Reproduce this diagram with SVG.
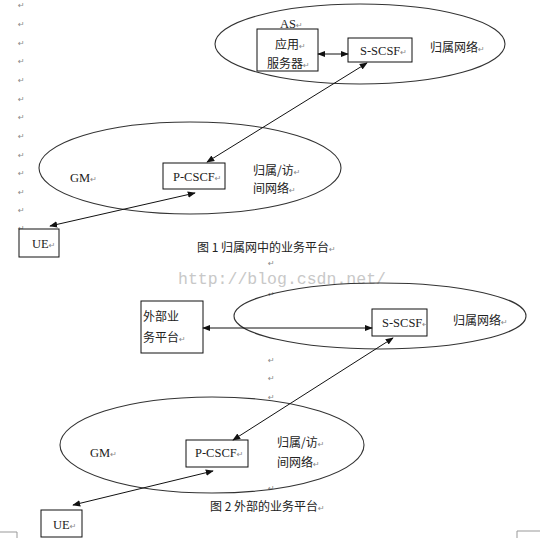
<svg xmlns="http://www.w3.org/2000/svg" width="550" height="538" viewBox="0 0 550 538">
<defs>
<style>
.bg{fill:#fff}
.ell{fill:none;stroke:#333;stroke-width:1.1}
.box{fill:#fff;stroke:#111;stroke-width:1}
.t{font-family:"Liberation Serif","Noto Sans CJK SC",serif;font-size:12.5px;fill:#222}
.c{font-family:"Noto Sans CJK SC","Liberation Sans",sans-serif;font-size:12px;fill:#222}
.p{font-family:"DejaVu Sans",sans-serif;font-size:8px;fill:#888}
.wm{font-family:"Liberation Mono",monospace;font-size:16.5px;fill:#c8c8c8}
.ln{stroke:#111;stroke-width:1;fill:none;marker-start:url(#ah);marker-end:url(#ah)}
.fr{stroke:#999;stroke-width:1;fill:none}
</style>
<marker id="ah" viewBox="0 0 10 10" refX="9" refY="5" markerWidth="8" markerHeight="8" markerUnits="userSpaceOnUse" orient="auto-start-reverse">
<path d="M0,1 L10,5 L0,9 z" fill="#111"/>
</marker>
</defs>
<rect class="bg" x="0" y="0" width="550" height="538"/>

<g id="paragraph-marks">
<text class="p" x="18" y="8">↵</text>
<text class="p" x="18" y="27">↵</text>
<text class="p" x="18" y="46">↵</text>
<text class="p" x="18" y="64">↵</text>
<text class="p" x="18" y="83">↵</text>
<text class="p" x="18" y="102">↵</text>
<text class="p" x="18" y="120">↵</text>
<text class="p" x="18" y="139">↵</text>
<text class="p" x="18" y="158">↵</text>
<text class="p" x="18" y="176">↵</text>
<text class="p" x="18" y="195">↵</text>
<text class="p" x="18" y="213">↵</text>
<text class="p" x="18" y="231">↵</text>
<text class="p" x="268" y="266">↵</text>
<text class="p" x="268" y="297">↵</text>
<text class="p" x="268" y="363">↵</text>
<text class="p" x="268" y="381">↵</text>
<text class="p" x="268" y="400">↵</text>
<text class="p" x="268" y="491">↵</text>
</g>

<text class="wm" x="178" y="284">http://blog.csdn.net/</text>

<g id="home-network-1">
<ellipse class="ell" cx="360" cy="44" rx="145" ry="40"/>
<text class="c" x="430" y="52">归属网络<tspan class="p">↵</tspan></text>
</g>
<g id="visited-network-1">
<ellipse class="ell" cx="190" cy="168" rx="151" ry="46"/>
<text class="c" x="253" y="175">归属/访<tspan class="p">↵</tspan></text>
<text class="c" x="253" y="193">间网络<tspan class="p">↵</tspan></text>
</g>
<g id="gm-1"><text class="t" x="70" y="182">GM<tspan class="p">↵</tspan></text></g>

<g id="as-1">
<text class="t" x="280" y="28">AS<tspan class="p">↵</tspan></text>
<rect class="box" x="257" y="29" width="61" height="42"/>
<text class="c" x="275" y="49">应用<tspan class="p">↵</tspan></text>
<text class="c" x="267" y="68">服务器<tspan class="p">↵</tspan></text>
</g>
<g id="s-scsf-1">
<rect class="box" x="348" y="38" width="64" height="24"/>
<text class="t" x="360" y="55">S-SCSF<tspan class="p">↵</tspan></text>
</g>
<g id="p-cscf-1">
<rect class="box" x="163" y="163" width="62" height="26"/>
<text class="t" x="173" y="181">P-CSCF<tspan class="p">↵</tspan></text>
</g>
<g id="ue-1">
<rect class="box" x="19" y="229" width="40" height="28"/>
<text class="t" x="32" y="248">UE<tspan class="p">↵</tspan></text>
</g>
<text class="c" x="197" y="252">图 1 归属网中的业务平台<tspan class="p">↵</tspan></text>

<g id="home-network-2">
<ellipse class="ell" cx="380" cy="316" rx="146" ry="33"/>
<text class="c" x="453" y="325">归属网络<tspan class="p">↵</tspan></text>
</g>
<g id="visited-network-2">
<ellipse class="ell" cx="212" cy="445" rx="152" ry="48"/>
<text class="c" x="277" y="447">归属/访<tspan class="p">↵</tspan></text>
<text class="c" x="277" y="467">间网络<tspan class="p">↵</tspan></text>
</g>
<g id="gm-2"><text class="t" x="90" y="457">GM<tspan class="p">↵</tspan></text></g>

<g id="external-platform">
<rect class="box" x="141" y="301" width="62" height="52"/>
<text class="c" x="143" y="321">外部业</text>
<text class="c" x="143" y="342">务平台<tspan class="p">↵</tspan></text>
</g>
<g id="s-scsf-2">
<rect class="box" x="372" y="309" width="55" height="27"/>
<text class="t" x="382" y="327">S-SCSF<tspan class="p">↵</tspan></text>
</g>
<g id="p-cscf-2">
<rect class="box" x="186" y="440" width="62" height="27"/>
<text class="t" x="195" y="457">P-CSCF<tspan class="p">↵</tspan></text>
</g>
<g id="ue-2">
<rect class="box" x="41" y="510" width="41" height="27"/>
<text class="t" x="53" y="529">UE<tspan class="p">↵</tspan></text>
</g>
<text class="c" x="210" y="511">图 2 外部的业务平台<tspan class="p">↵</tspan></text>

<g id="connectors">
<line class="ln" x1="318" y1="54" x2="348" y2="54"/>
<line class="ln" x1="367" y1="63" x2="207" y2="162"/>
<line class="ln" x1="50" y1="226" x2="195" y2="193"/>
<line class="ln" x1="203" y1="328" x2="372" y2="328"/>
<line class="ln" x1="393" y1="338" x2="233" y2="440"/>
<line class="ln" x1="73" y1="505" x2="213" y2="471"/>
</g>

<path class="fr" d="M0,532 H17 V538"/>
<path class="fr" d="M540,531 H517 V538" stroke="#ccc"/>
</svg>
